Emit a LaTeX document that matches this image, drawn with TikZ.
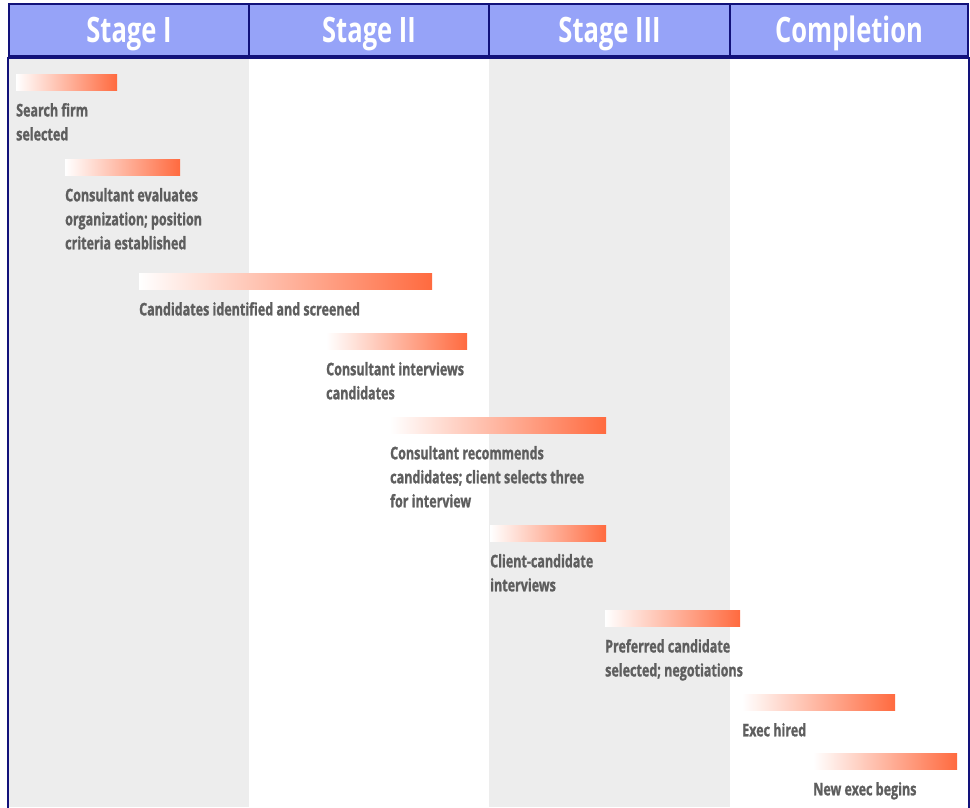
\documentclass[tikz,border=0pt]{standalone}
\usepackage{fontspec}
\newfontfamily\narrowsans{Open Sans}[FakeStretch=0.73]
\newfontfamily\narrowsansheavy{Open Sans}[FakeStretch=0.72,FakeBold=1.2]
\usetikzlibrary{positioning}
\definecolor{navy}{HTML}{12127A}
\definecolor{headblue}{HTML}{96A3F8}
\definecolor{colgray}{HTML}{EDEDED}
\definecolor{txtgray}{HTML}{5E5E5E}
\definecolor{barred}{HTML}{FF6A3F}

\begin{document}
\begin{tikzpicture}[x=1pt,y=-1pt,
	hdr/.style={draw=navy,line width=2pt,fill=headblue,minimum height=52pt,text height=26pt,text depth=1pt,text=white,inner sep=0pt,font=\narrowsans\bfseries\fontsize{35}{38}\selectfont},
	bar/.style={anchor=north west,inner sep=0pt,minimum height=16.5pt,left color=white,right color=barred},
	lbl/.style={anchor=north west,inner sep=0pt,align=left,text=txtgray,font=\narrowsansheavy\bfseries\fontsize{17.4}{24}\selectfont}
	]
	\useasboundingbox (0,0) rectangle (970,807);
	% shaded columns
	\fill[colgray] (9,56) rectangle (249,807);
	\fill[colgray] (489,56) rectangle (730,807);
	% header
	\node[hdr,minimum width=240pt] (h1) at (129,30) {Stage I};
	\node[hdr,minimum width=240pt] (h2) at (369,30) {Stage II};
	\node[hdr,minimum width=241pt] (h3) at (609.5,30) {Stage III};
	\node[hdr,minimum width=238pt] (h4) at (849,30) {Completion};
	\draw[navy,line width=3pt] (h1.south west) -- (h4.south east);
	\draw[navy,line width=1.6pt] (h1.south west) -- ++(0,752);
	\draw[navy,line width=1.6pt] (h4.south east) -- ++(0,752);
	% bars and labels
	\node[bar,minimum width=101pt] (b1) at (16,74) {};
	\node[lbl,below=12pt of b1.south west,anchor=north west] (t1) {Search firm\\selected};
	\node[bar,minimum width=115pt] (b2) at (65,159) {};
	\node[lbl,below=12pt of b2.south west,anchor=north west] (t2) {Consultant evaluates\\organization; position\\criteria established};
	\node[bar,minimum width=293pt] (b3) at (139,273) {};
	\node[lbl,below=12pt of b3.south west,anchor=north west] (t3) {Candidates identified and screened};
	\node[bar,minimum width=141pt] (b4) at (326,333) {};
	\node[lbl,below=12pt of b4.south west,anchor=north west] (t4) {Consultant interviews\\candidates};
	\node[bar,minimum width=216pt] (b5) at (390,417) {};
	\node[lbl,below=12pt of b5.south west,anchor=north west] (t5) {Consultant recommends\\candidates; client selects three\\for interview};
	\node[bar,minimum width=116pt] (b6) at (490,525) {};
	\node[lbl,below=12pt of b6.south west,anchor=north west] (t6) {Client-candidate\\interviews};
	\node[bar,minimum width=135pt] (b7) at (605,610) {};
	\node[lbl,below=12pt of b7.south west,anchor=north west] (t7) {Preferred candidate\\selected; negotiations};
	\node[bar,minimum width=153pt] (b8) at (742,694) {};
	\node[lbl,below=12pt of b8.south west,anchor=north west] (t8) {Exec hired};
	\node[bar,minimum width=144pt] (b9) at (813,753) {};
	\node[lbl,below=12pt of b9.south west,anchor=north west] (t9) {New exec begins};
\end{tikzpicture}
\end{document}
